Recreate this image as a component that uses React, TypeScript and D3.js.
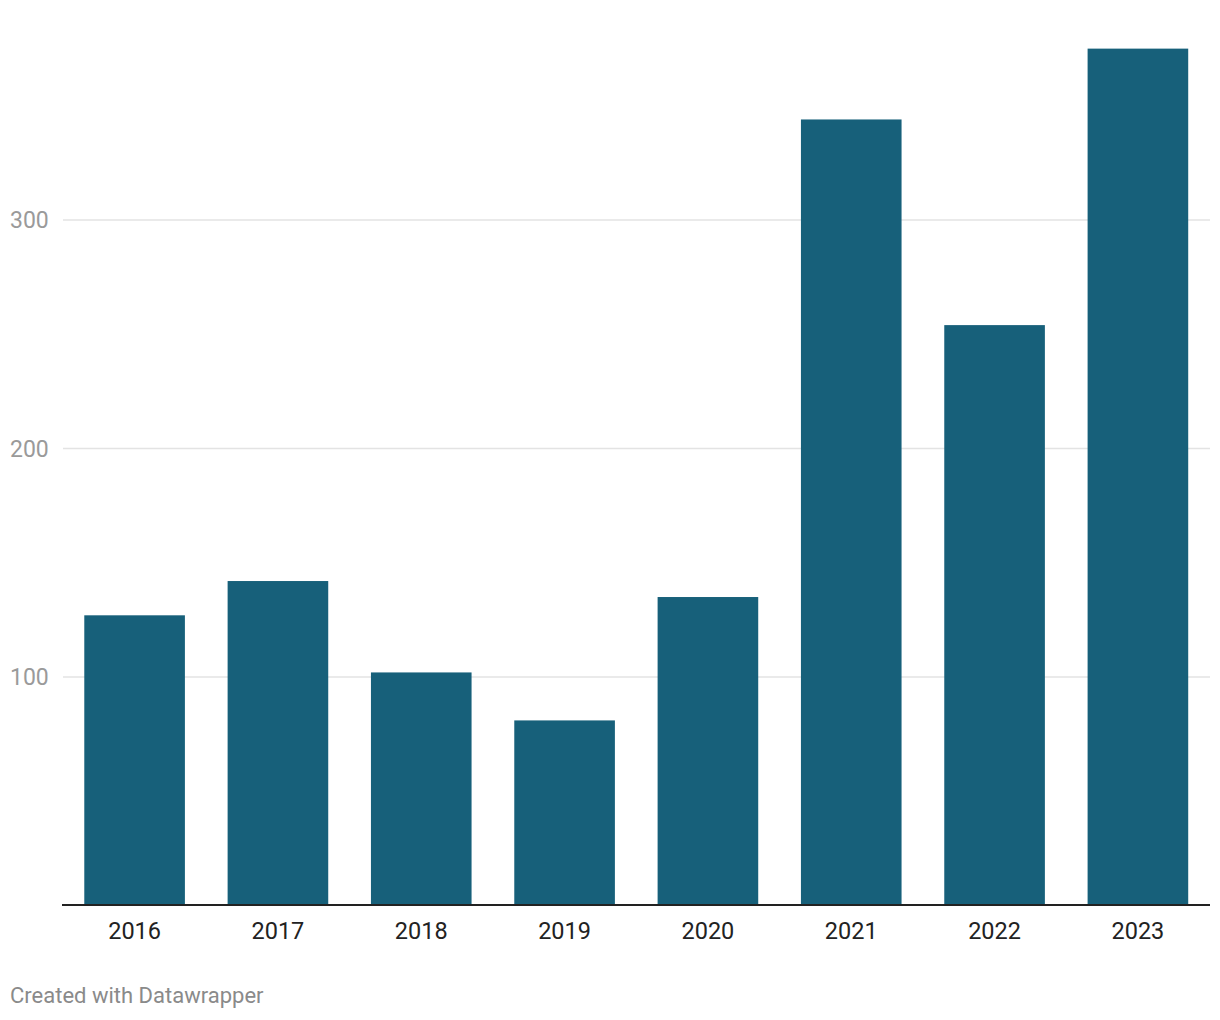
import React from "react";
import * as d3 from "d3";

const years = ["2016", "2017", "2018", "2019", "2020", "2021", "2022", "2023"];
const values = [127, 142, 102, 81, 135, 344, 254, 375];
const yTicks = [100, 200, 300];

const W = 1220;
const H = 1020;
const FONT = "Roboto, 'Noto Sans', sans-serif";

export default function App() {
  const x = d3.scaleBand<string>().domain(years).range([62.5, 1210]).paddingInner(0.298).paddingOuter(0.152);
  const y = d3.scaleLinear().domain([0, 300]).range([905.5, 220]);
  return (
    <svg width={W} height={H} style={{ position: "absolute", left: 0, top: 0, background: "#fff" }} fontFamily={FONT}>
      {yTicks.map((t) => (
        <g key={t}>
          <line x1={63} x2={1210} y1={y(t)} y2={y(t)} stroke="#e3e3e3" strokeWidth={1.5} />
          <text x={10} y={y(t)} dy="0.36em" fontSize={23} fill="#9a9a9a">{t}</text>
        </g>
      ))}
      {years.map((yr, i) => (
        <rect key={yr} x={x(yr)} width={x.bandwidth()} y={y(values[i])} height={y(0) - y(values[i])} fill="#17607a" />
      ))}
      <line x1={62} x2={1210} y1={905} y2={905} stroke="#222" strokeWidth={2} />
      {years.map((yr) => (
        <text key={yr} x={(x(yr) as number) + x.bandwidth() / 2} y={938.5} textAnchor="middle" fontSize={23.5} fill="#222">{yr}</text>
      ))}
      <text x={10} y={1003} fontSize={22} fill="#8a8a8a">Created with Datawrapper</text>
    </svg>
  );
}
